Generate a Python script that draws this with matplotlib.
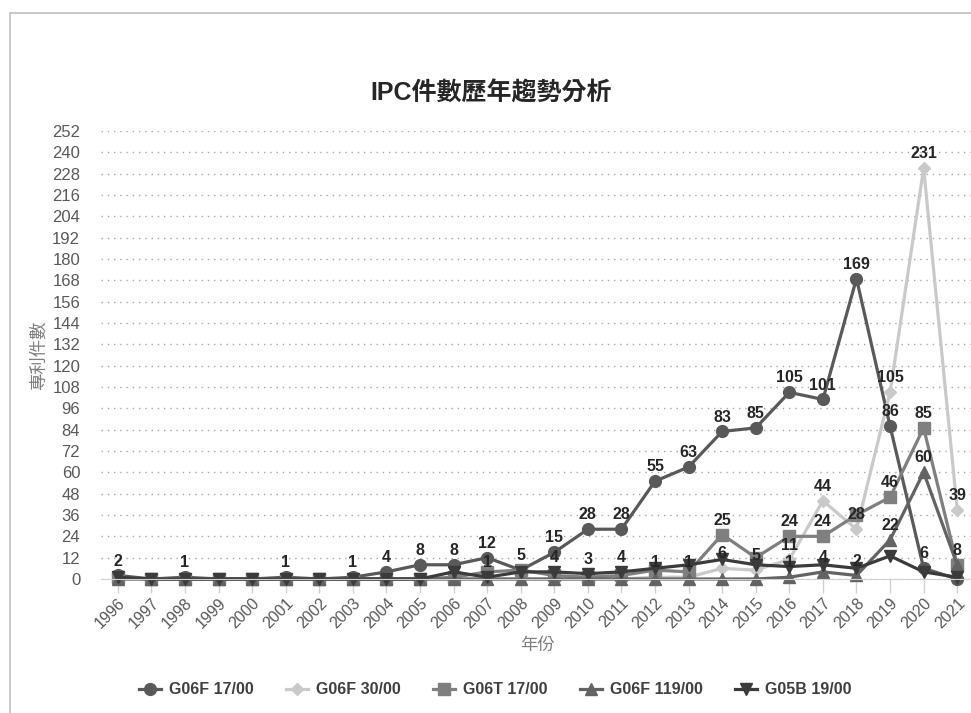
import numpy as np
import matplotlib
matplotlib.use("Agg")
import matplotlib.pyplot as plt
from matplotlib.patches import Rectangle


plt.rcParams["font.family"] = ["Liberation Sans", "Noto Sans CJK TC", "DejaVu Sans"]

# 資料
years = [str(y) for y in range(1996, 2022)]
y_ticks = list(range(0, 253, 12))

series_names = ["G06F 17/00", "G06F 30/00", "G06T 17/00", "G06F 119/00", "G05B 19/00"]
g06f_17 = [2, 0, 1, 0, 0, 1, 0, 1, 4, 8, 8, 12, 5, 15, 28, 28, 55, 63, 83, 85, 105, 101, 169, 86, 6, 0]
g06f_30 = [0, 0, 0, 0, 0, 0, 0, 0, 0, 0, 0, 0, 0, 0, 0, 0, 1, 1, 6, 5, 11, 44, 28, 105, 231, 39]
g06t_17 = [1, 0, 0, 0, 0, 0, 0, 0, 0, 0, 1, 4, 5, 2, 1, 2, 5, 4, 25, 12, 24, 24, 36, 46, 85, 8]
g06f_119 = [0, 0, 0, 0, 0, 0, 0, 0, 0, 0, 0, 0, 0, 0, 0, 0, 0, 0, 0, 0, 1, 4, 2, 22, 60, 8]
g05b_19 = [1, 0, 0, 0, 0, 0, 0, 0, 0, 0, 4, 1, 4, 4, 3, 4, 6, 8, 11, 8, 7, 8, 6, 13, 4, 1]

# 有顯示數值標籤的年份
label_years_g06f_17 = ["1996", "1998", "2001", "2003", "2004", "2005", "2006", "2007", "2008",
                       "2009", "2010", "2011", "2012", "2013", "2014", "2015", "2016", "2017",
                       "2018", "2019", "2020"]
label_years_g06f_30 = ["2012", "2013", "2014", "2015", "2016", "2017", "2018", "2019", "2020", "2021"]
label_years_g06t_17 = ["2014", "2016", "2017", "2019", "2020", "2021"]
label_years_g06f_119 = ["2016", "2017", "2018", "2019", "2020"]
label_years_g05b_19 = ["2007", "2009", "2010", "2011"]

series_values = [g06f_17, g06f_30, g06t_17, g06f_119, g05b_19]
series_labels = [label_years_g06f_17, label_years_g06f_30, label_years_g06t_17,
                 label_years_g06f_119, label_years_g05b_19]
colors = ["#595959", "#c9c9c9", "#7f7f7f", "#636363", "#3b3b3b"]
markers = ["o", "D", "s", "^", "v"]
marker_sizes = [8.5, 6.5, 8.5, 8.5, 9]

fig = plt.figure(figsize=(9.71, 7.13), dpi=100)
ax = fig.add_axes([101 / 971, 1 - 579 / 713, 873 / 971, 448 / 713])

x = np.arange(len(years))
for name, vals, col, mk, ms in zip(series_names, series_values, colors, markers, marker_sizes):
    ax.plot(x, vals, color=col, marker=mk, markersize=ms, linewidth=2.3,
            markeredgecolor=col, label=name, clip_on=False)

for vals, label_years in zip(series_values, series_labels):
    for yr in label_years:
        i = years.index(yr)
        ax.annotate(str(vals[i]), (x[i], vals[i]), xytext=(0, 5), textcoords="offset points",
                    ha="center", va="bottom", fontsize=11.5, fontweight="bold",
                    color="#262626", zorder=10)

ax.set_xlim(-0.5, len(years) - 0.5)
ax.set_ylim(0, 252)
ax.set_yticks(y_ticks)
ax.set_xticks(x)
ax.set_xticklabels(years, rotation=45, ha="right", rotation_mode="anchor")
ax.tick_params(axis="y", length=0, labelsize=12, labelcolor="#595959", pad=15)
ax.tick_params(axis="x", length=10, color="#d0d0d0", width=1, labelsize=11.5,
               labelcolor="#595959", pad=2)
ax.grid(axis="y", color="#a6a6a6", linestyle=(0, (1, 3.5)), linewidth=1)
ax.set_axisbelow(True)
for side in ["top", "right", "left"]:
    ax.spines[side].set_visible(False)
ax.spines["bottom"].set_color("#d0d0d0")

ax.set_ylabel("專利件數", color="#7f7f7f", fontsize=12.5, labelpad=4)
ax.set_xlabel("年份", color="#7f7f7f", fontsize=12.5, labelpad=4)

fig.text(0.506, 1 - 93 / 713, "IPC件數歷年趨勢分析", ha="center", va="center",
         fontsize=18, fontweight="bold", color="#262626")

fig.legend(loc="center", bbox_to_anchor=(0.51, 1 - 690 / 713), ncol=5, frameon=False,
           prop={"weight": "bold", "size": 11.5}, labelcolor="#404040",
           handlelength=1.4, columnspacing=2.0, handletextpad=0.5)

# 外框
fig.patches.append(Rectangle((10 / 971, -0.1), 1.2, 1.1 - 13 / 713, transform=fig.transFigure,
                             fill=False, edgecolor="#bfbfbf", linewidth=1.2))

fig.savefig("out.png", dpi=100)
